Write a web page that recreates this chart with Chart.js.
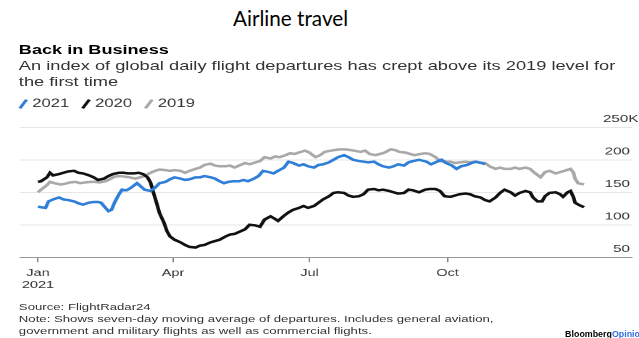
<!DOCTYPE html>
<html>
<head>
<meta charset="utf-8">
<title>Airline travel</title>
<script src="https://cdn.jsdelivr.net/npm/chart.js@4.4.0/dist/chart.umd.min.js"></script>
<style>
  html, body { margin: 0; padding: 0; background: #fff; }
  body { width: 639px; height: 338px; position: relative; overflow: hidden; font-family: "Liberation Sans", Arial, sans-serif; }
  #slideTitle { position: absolute; left: 233px; top: 4px; font-family: Lato, "Open Sans", sans-serif; font-size: 20.7px; line-height: 28px; color: #000; white-space: nowrap; }
  /* the Bloomberg graphic in the slide is stretched sideways, so draw it narrow and widen it */
  #graphic { position: absolute; left: 0; top: 0; width: 441px; height: 338px; overflow: hidden; transform: scaleX(1.449); transform-origin: 0 0; }
  .t { position: absolute; left: 13px; white-space: nowrap; }
  #headline { top: 43px; font-weight: bold; font-size: 12.5px; line-height: 15px; color: #000; }
  #dek { top: 58.4px; font-size: 12.6px; line-height: 16px; color: #333; }
  #chartBox { position: absolute; left: 0; top: 85px; width: 441px; height: 214px; }
  #notes { top: 301.3px; font-size: 9.1px; line-height: 12px; color: #333; }
  #logo { position: absolute; left: 389.5px; top: 328.9px; font-size: 9px; line-height: 10px; font-weight: bold; white-space: nowrap; transform: scaleX(0.68); transform-origin: 0 0; }
</style>
</head>
<body>
<div id="slideTitle">Airline travel</div>
<div id="graphic">
  <div class="t" id="headline">Back in Business</div>
  <div class="t" id="dek">An index of global daily flight departures has crept above its 2019 level for<br>the first time</div>
  <div id="chartBox"><canvas id="chart" width="441" height="214"></canvas></div>
  <div class="t" id="notes">Source: FlightRadar24<br>Note: Shows seven-day moving average of departures. Includes general aviation,<br>government and military flights as well as commercial flights.</div>
  <div id="logo"><span style="color:#000">Bloomberg</span><span style="color:#2f6fe0">Opinion</span></div>
</div>
<script>
// x = day of year (0 = Jan 1), y = daily departures, thousands
const tickDays = [0, 90, 181, 273];
const tickLabels = [['Jan', '2021'], 'Apr', 'Jul', 'Oct'];
const yTickValues = [50, 100, 150, 200, 250];
const yTickLabels = ['50\u2007', '100\u2007', '150\u2007', '200\u2007', '250K'];

const days2021 = [0,2,5,7,10,14,17,20,24,27,30,34,37,40,42,45,47,49,51,54,56,59,62,66,68,71,75,78,81,85,88,91,95,98,101,105,108,111,115,118,121,124,127,130,134,137,140,144,147,150,154,157,160,164,167,170,174,177,180,184,187,190,194,197,200,204,207,210,214,217,220,224,227,230,234,237,240,244,247,250,254,259,262,266,269,272,276,279,282,286,289,292,296,298];
const flights2021 = [128,127,126,136,139,142,139,138,136,133,131,134,135,135,134,126,121,123,134,147,154,153,157,164,160,154,152,157,164,166,170,173,171,169,170,173,173,175,173,171,167,164,166,167,167,169,167,171,175,183,181,179,183,188,197,195,191,193,190,188,192,193,196,200,204,207,204,200,198,197,196,197,193,190,188,190,193,191,196,198,200,197,193,197,200,195,191,186,190,192,195,197,195,193];

const days2020 = [0,2,6,8,10,14,17,20,24,27,30,34,37,40,44,47,50,54,57,60,64,67,70,73,75,77,79,81,84,86,88,91,95,98,101,105,108,111,115,118,121,125,128,131,135,138,141,145,148,151,155,158,160,164,167,170,174,177,180,184,187,190,194,197,200,204,207,210,214,217,220,224,227,230,234,237,240,244,247,250,254,258,261,265,268,271,275,278,281,285,288,291,295,298,301,305,308,311,315,318,321,325,328,330,333,336,338,341,345,348,350,353,355,357,358,361,364];
const flights2020 = [166,167,173,180,176,178,180,182,183,180,179,176,173,169,171,175,178,180,180,179,179,180,178,173,165,149,134,118,103,90,82,77,73,69,66,65,68,69,73,75,77,82,85,86,90,93,100,99,97,108,113,109,106,114,119,123,126,129,126,129,134,139,144,149,150,149,145,143,144,147,154,155,153,154,152,150,148,149,154,153,150,154,155,155,152,144,143,145,147,148,147,144,142,138,136,142,149,154,150,145,149,152,150,142,136,136,144,149,150,147,143,150,152,142,134,130,127];

const days2019 = [0,2,6,8,11,15,18,21,25,28,31,35,38,41,45,48,51,55,58,61,65,68,71,75,78,81,85,88,91,95,98,101,105,108,111,115,118,121,125,128,131,135,138,141,145,148,151,155,158,161,165,168,171,175,178,181,185,188,191,195,198,201,205,208,211,215,218,221,225,228,231,235,238,241,245,248,251,255,258,261,265,268,271,275,278,281,285,288,291,295,298,301,305,308,311,315,318,321,325,328,331,335,338,341,345,348,351,355,357,358,360,364];
const flights2019 = [150,154,161,166,164,162,163,165,166,164,165,166,166,165,167,170,174,175,174,173,171,173,175,180,183,185,184,183,184,183,180,183,186,188,192,194,191,190,190,191,188,192,195,193,196,198,204,202,205,204,207,210,209,212,214,211,204,207,212,214,215,216,216,215,214,212,214,209,207,209,211,216,215,212,211,209,207,209,210,209,204,198,197,197,195,196,197,196,197,195,195,190,186,188,186,186,188,186,188,186,180,173,181,183,179,181,183,186,180,171,164,162];

const toPoints = (days, vals) => days.map((d, i) => ({ x: d, y: vals[i] }));

function line(label, days, vals, color) {
  return {
    label,
    data: toPoints(days, vals),
    borderColor: color,
    backgroundColor: color,
    borderWidth: 2.5,
    tension: 0,
    pointRadius: 0,
    pointStyle: 'line',
    pointRotation: -62,
    pointBorderWidth: 2.3
  };
}

// legend needs some air below it and sits a bit left of the plot
const legendTweak = {
  id: 'legendTweak',
  beforeInit(chart) {
    const fit = chart.legend.fit;
    chart.legend.fit = function () { fit.call(this); this.height += 7.5; };
  },
  afterLayout(chart) {
    chart.legend.left -= 9.3;
    chart.legend.right -= 9.3;
  }
};

Chart.defaults.font.family = '"Liberation Sans", Arial, sans-serif';
Chart.defaults.color = '#333';

new Chart(document.getElementById('chart'), {
  type: 'line',
  data: {
    datasets: [
      line('2021', days2021, flights2021, '#2f7ed8'),
      line('2020', days2020, flights2020, '#111111'),
      line('2019', days2019, flights2019, '#a9a9a9')
    ]
  },
  options: {
    responsive: false,
    animation: false,
    devicePixelRatio: 2,
    events: [],
    layout: { padding: { left: 13.8, right: 4.8, top: 2.25, bottom: 2.7 } },
    plugins: {
      tooltip: { enabled: false },
      legend: {
        position: 'top',
        align: 'start',
        labels: { usePointStyle: true, boxWidth: 1, boxHeight: 7, padding: 11, font: { size: 11.5 }, color: '#333' }
      }
    },
    scales: {
      x: {
        type: 'linear',
        min: -12,
        max: 396,
        afterBuildTicks: s => { s.ticks = tickDays.map(v => ({ value: v })); },
        ticks: { autoSkip: false, maxRotation: 0, padding: 5, font: { size: 10 }, color: '#333',
                 callback: (v, i) => tickLabels[i] },
        grid: { drawOnChartArea: false, tickLength: 5, color: '#888' },
        border: { display: true, color: '#999', width: 1 }
      },
      y: {
        position: 'right',
        min: 50,
        max: 250,
        afterBuildTicks: s => { s.ticks = yTickValues.map(v => ({ value: v })); },
        afterFit: s => { s.width = 0; },
        ticks: { mirror: true, padding: 4.4, labelOffset: -8, font: { size: 10.5 }, color: '#333',
                 callback: (v, i) => yTickLabels[i] },
        grid: { color: '#e6e6e6', drawTicks: false },
        border: { display: false }
      }
    }
  },
  plugins: [legendTweak]
});
</script>
</body>
</html>
